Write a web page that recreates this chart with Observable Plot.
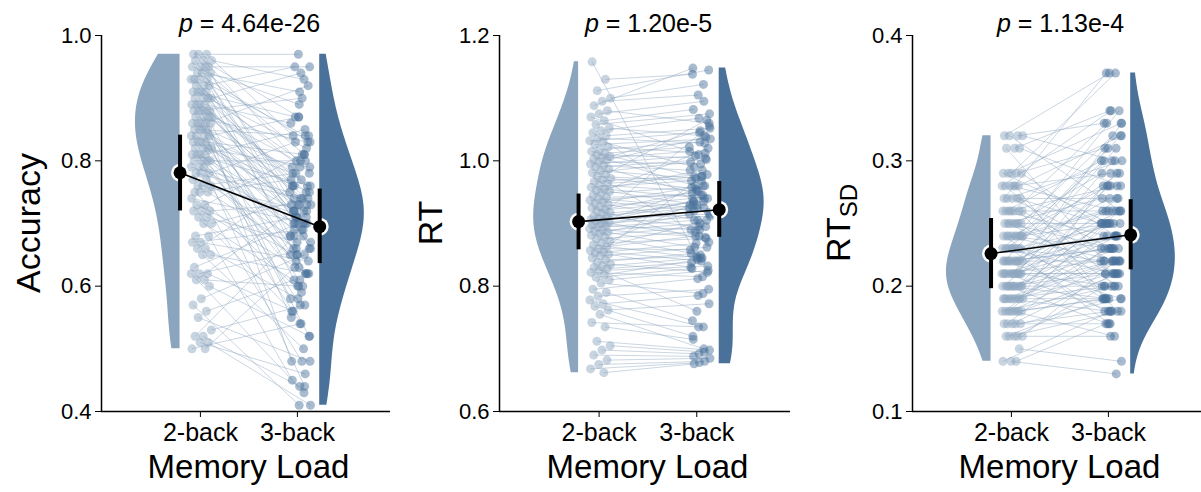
<!DOCTYPE html>
<html><head><meta charset="utf-8">
<script src="https://cdn.jsdelivr.net/npm/d3@7"></script>
<script src="https://cdn.jsdelivr.net/npm/@observablehq/plot@0.6"></script>
<style>
html,body{margin:0;padding:0;background:#fff;}
#wrap{position:relative;width:1201px;height:492px;overflow:hidden;font-family:"Liberation Sans",Arial,Helvetica,sans-serif;}
#wrap svg{position:absolute;top:0;}
</style></head><body><div id="wrap"></div>
<script>
const categories = ["2-back", "3-back"];

const accuracy2 = [
0.97,0.97,0.97,0.96,0.96,0.96,0.95,0.95,0.95,0.95,
0.94,0.94,0.94,0.93,0.93,0.93,0.93,0.92,0.92,0.92,
0.91,0.91,0.91,0.91,0.90,0.90,0.90,0.90,0.89,0.89,
0.89,0.89,0.88,0.88,0.88,0.88,0.88,0.87,0.87,0.87,
0.87,0.86,0.86,0.86,0.86,0.86,0.85,0.85,0.85,0.85,
0.84,0.84,0.84,0.84,0.83,0.83,0.83,0.83,0.82,0.82,
0.82,0.82,0.81,0.81,0.81,0.81,0.80,0.80,0.80,0.80,
0.79,0.79,0.79,0.78,0.78,0.78,0.77,0.77,0.76,0.76,
0.76,0.75,0.75,0.75,0.74,0.73,0.73,0.72,0.72,0.72,
0.71,0.71,0.70,0.70,0.68,0.68,0.67,0.67,0.66,0.66,
0.65,0.65,0.63,0.62,0.62,0.62,0.61,0.61,0.60,0.58,
0.57,0.56,0.55,0.53,0.52,0.52,0.51,0.51,0.50,0.50];
const accuracy3 = [
0.97,0.84,0.78,0.93,0.87,0.72,0.95,0.81,0.89,0.74,
0.83,0.70,0.91,0.76,0.66,0.84,0.79,0.95,0.73,0.62,
0.80,0.87,0.68,0.75,0.94,0.71,0.58,0.82,0.77,0.64,
0.86,0.73,0.69,0.80,0.55,0.76,0.90,0.71,0.48,0.83,
0.74,0.65,0.79,0.92,0.70,0.60,0.76,0.84,0.68,0.73,
0.78,0.52,0.72,0.87,0.66,0.75,0.81,0.63,0.70,0.79,
0.44,0.73,0.69,0.76,0.85,0.61,0.72,0.67,0.80,0.57,
0.70,0.75,0.62,0.74,0.83,0.65,0.71,0.54,0.78,0.68,
0.72,0.59,0.66,0.77,0.70,0.48,0.65,0.73,0.62,0.81,
0.67,0.56,0.74,0.60,0.71,0.45,0.64,0.69,0.58,0.76,
0.62,0.50,0.70,0.56,0.66,0.43,0.60,0.72,0.52,0.65,
0.41,0.61,0.48,0.57,0.44,0.68,0.41,0.46,0.54,0.63];

const rt2 = [
1.158,1.130,1.112,1.100,1.095,1.088,1.080,1.075,1.070,1.064,
1.058,1.052,1.048,1.045,1.040,1.036,1.032,1.030,1.026,1.022,
1.018,1.015,1.012,1.010,1.007,1.005,1.003,1.001,0.998,0.995,
0.992,0.990,0.987,0.984,0.981,0.978,0.975,0.972,0.970,0.967,
0.964,0.961,0.958,0.955,0.953,0.951,0.948,0.945,0.942,0.940,
0.937,0.935,0.932,0.930,0.927,0.925,0.922,0.920,0.917,0.915,
0.912,0.910,0.908,0.906,0.904,0.903,0.902,0.900,0.898,0.896,
0.894,0.892,0.890,0.888,0.886,0.884,0.881,0.878,0.875,0.872,
0.869,0.866,0.863,0.860,0.857,0.855,0.853,0.851,0.848,0.845,
0.842,0.838,0.835,0.832,0.830,0.828,0.825,0.822,0.818,0.814,
0.810,0.805,0.795,0.790,0.784,0.778,0.772,0.768,0.762,0.755,
0.742,0.735,0.712,0.705,0.698,0.690,0.682,0.675,0.668,0.662];
const rt3 = [
0.845,1.138,1.145,1.122,1.105,1.148,1.060,1.095,1.010,1.082,
1.075,1.040,1.068,0.935,1.052,1.028,1.045,0.990,1.035,1.012,
1.030,0.975,1.022,1.004,1.048,0.960,1.015,1.038,0.995,1.008,
0.985,1.002,0.945,0.972,0.998,1.065,0.968,0.955,0.890,0.978,
0.975,0.952,0.968,0.940,0.985,0.930,0.958,1.020,0.945,0.925,
0.948,0.918,0.960,0.905,0.940,0.870,0.935,0.952,0.928,1.055,
0.925,0.895,0.935,0.915,0.940,0.880,0.920,0.912,0.960,0.890,
0.905,0.925,0.878,0.900,0.862,0.915,0.895,0.850,0.887,0.930,
0.876,0.845,0.880,0.858,0.905,0.840,0.868,0.830,0.862,0.975,
0.848,0.852,0.822,0.845,0.760,0.838,0.832,0.815,0.842,0.828,
0.825,0.788,0.812,0.745,0.795,0.735,0.785,0.720,0.772,0.700,
0.735,0.715,0.698,0.695,0.692,0.688,0.685,0.680,0.678,0.676];

const rtsd2 = [
0.32,0.32,0.32,0.32,0.31,0.31,0.31,0.29,0.29,0.29,
0.29,0.29,0.28,0.28,0.28,0.28,0.28,0.28,0.27,0.27,
0.27,0.27,0.27,0.26,0.26,0.26,0.26,0.26,0.26,0.26,
0.25,0.25,0.25,0.25,0.25,0.25,0.25,0.24,0.24,0.24,
0.24,0.24,0.24,0.24,0.24,0.24,0.23,0.23,0.23,0.23,
0.23,0.23,0.23,0.23,0.23,0.22,0.22,0.22,0.22,0.22,
0.22,0.22,0.22,0.22,0.22,0.22,0.21,0.21,0.21,0.21,
0.21,0.21,0.21,0.21,0.21,0.21,0.21,0.21,0.20,0.20,
0.20,0.20,0.20,0.20,0.20,0.20,0.20,0.20,0.20,0.19,
0.19,0.19,0.19,0.19,0.19,0.19,0.19,0.19,0.18,0.18,
0.18,0.18,0.18,0.18,0.18,0.18,0.17,0.17,0.17,0.17,
0.17,0.16,0.16,0.16,0.16,0.16,0.15,0.14,0.14,0.14];
const rtsd3 = [
0.37,0.33,0.26,0.30,0.34,0.22,0.28,0.37,0.25,0.31,
0.33,0.24,0.29,0.21,0.32,0.26,0.34,0.19,0.30,0.27,
0.23,0.37,0.25,0.28,0.22,0.33,0.30,0.18,0.26,0.24,
0.29,0.21,0.32,0.25,0.27,0.20,0.23,0.31,0.26,0.22,
0.25,0.28,0.19,0.34,0.23,0.26,0.22,0.29,0.24,0.17,
0.30,0.25,0.21,0.27,0.20,0.32,0.24,0.23,0.18,0.26,
0.22,0.28,0.25,0.19,0.31,0.23,0.21,0.33,0.24,0.20,
0.26,0.22,0.29,0.18,0.25,0.23,0.21,0.30,0.19,0.25,
0.24,0.21,0.28,0.20,0.27,0.22,0.17,0.25,0.23,0.22,
0.23,0.19,0.26,0.21,0.18,0.28,0.22,0.20,0.19,0.24,
0.21,0.16,0.25,0.19,0.22,0.20,0.18,0.23,0.19,0.21,
0.17,0.20,0.18,0.22,0.16,0.19,0.14,0.13,0.18,0.17];

// group summaries (mean and error bar ends)
const accMean = [0.781, 0.695], accLow = [0.720, 0.636], accHigh = [0.841, 0.755];
const rtMean = [0.903, 0.922], rtLow = [0.858, 0.878], rtHigh = [0.947, 0.967];
const rtsdMean = [0.226, 0.241], rtsdLow = [0.198, 0.213], rtsdHigh = [0.254, 0.269];

const accTicks = [0.4, 0.6, 0.8, 1.0];
const rtTicks = [0.6, 0.8, 1.0, 1.2];
const rtsdTicks = [0.1, 0.2, 0.3, 0.4];

const pLabels = ["4.64e-26", "1.20e-5", "1.13e-4"];
const yLabels = [["Accuracy", ""], ["RT", ""], ["RT", "SD"]];
const xLabel = "Memory Load";

const col2 = "#8ba5be", col3 = "#49719a";
const FONT = '"Liberation Sans", Arial, Helvetica, sans-serif';

function kde(values, n = 120) {
  const sd = d3.deviation(values), h = sd * Math.pow(values.length, -0.2);
  const [lo, hi] = d3.extent(values);
  const ys = d3.range(n + 1).map(k => lo + (hi - lo) * k / n);
  const dens = ys.map(y => d3.sum(values, v => Math.exp(-0.5 * ((y - v) / h) ** 2)));
  const m = d3.max(dens);
  return ys.map((y, k) => ({y, w: dens[k] / m}));
}

const panels = [
  {left: 0, width: 400, ml: 101, mr: 10, v2: accuracy2, v3: accuracy3, domain: [0.4, 1.0], ticks: accTicks,
   mean: accMean, low: accLow, high: accHigh, labelX: 40},
  {left: 400, width: 400, ml: 99, mr: 10, v2: rt2, v3: rt3, domain: [0.6, 1.2], ticks: rtTicks,
   mean: rtMean, low: rtLow, high: rtHigh, labelX: 42},
  {left: 800, width: 401, ml: 112, mr: 0, v2: rtsd2, v3: rtsd3, domain: [0.1, 0.4], ticks: rtsdTicks,
   mean: rtsdMean, low: rtsdLow, high: rtsdHigh, labelX: 50}
];

const E2 = -0.21, E3 = 1.23, VW = 0.46, JW = 0.22;
const wrap = document.getElementById("wrap");

panels.forEach((p, pi) => {
  const pairs = p.v2.map((y2, i) => ({
    y2, y3: p.v3[i],
    x2: 0.01 + JW * (((i * 0.6180339887 + 0.13) % 1) - 0.5),
    x3: 1.03 + JW * (((i * 0.7548776662 + 0.41) % 1) - 0.5)
  }));
  const k2 = kde(p.v2), k3 = kde(p.v3);
  const summary = [0, 1].map(g => ({x: g === 0 ? E2 : E3, m: p.mean[g], lo: p.low[g], hi: p.high[g]}));
  const svg = Plot.plot({
    width: p.width, height: 492,
    marginLeft: p.ml, marginRight: p.mr, marginTop: 35, marginBottom: 81,
    style: {fontFamily: FONT, fontSize: "22px", color: "black", background: "transparent", overflow: "visible"},
    x: {domain: [-1.02, 1.96], ticks: [0, 1], tickFormat: i => categories[i], tickSize: 6, tickPadding: 6, label: null},
    y: {domain: p.domain, ticks: p.ticks, tickFormat: d3.format(".1f"), tickSize: 6, tickPadding: 4, label: null},
    marks: [
      Plot.areaX(k2, {y: "y", x1: () => E2, x2: d => E2 - VW * d.w, fill: col2}),
      Plot.areaX(k3, {y: "y", x1: () => E3, x2: d => E3 + VW * d.w, fill: col3}),
      Plot.link(pairs, {x1: "x2", y1: "y2", x2: "x3", y2: "y3", stroke: col2, strokeOpacity: 0.45, strokeWidth: 1}),
      Plot.dot(pairs, {x: "x2", y: "y2", r: 4.5, fill: col2, fillOpacity: 0.48}),
      Plot.dot(pairs, {x: "x3", y: "y3", r: 4.5, fill: col3, fillOpacity: 0.48}),
      Plot.dot(summary, {x: "x", y: "m", r: 9, fill: "white"}),
      Plot.line(summary, {x: "x", y: "m", stroke: "black", strokeWidth: 1.6}),
      Plot.ruleX(summary, {x: "x", y1: "lo", y2: "hi", stroke: "black", strokeWidth: 4}),
      Plot.dot(summary, {x: "x", y: "m", r: 6.5, fill: "black"}),
      Plot.ruleX([-1.02], {stroke: "black", strokeWidth: 1.5}),
      Plot.ruleY([p.domain[0]], {stroke: "black", strokeWidth: 1.5})
    ]
  });
  svg.style.left = p.left + "px";
  wrap.appendChild(svg);
  const s = d3.select(svg);
  s.selectAll('[aria-label="x-axis tick label"]').attr("font-size", 25);
  const cx = (p.ml + p.width - p.mr) / 2;
  const t = s.append("text").attr("x", cx + 4).attr("y", 32).attr("text-anchor", "middle")
    .attr("font-size", 25).attr("font-family", FONT).attr("fill", "black");
  t.append("tspan").attr("font-style", "italic").text("p");
  t.append("tspan").text(" = " + pLabels[pi]);
  const yl = s.append("text").attr("transform", `translate(${p.labelX},223) rotate(-90)`)
    .attr("text-anchor", "middle").attr("font-size", 34).attr("font-family", FONT).attr("fill", "black");
  yl.append("tspan").text(yLabels[pi][0]);
  if (yLabels[pi][1]) yl.append("tspan").attr("font-size", 24).attr("dy", 7).text(yLabels[pi][1]);
  s.append("text").attr("x", cx + 3).attr("y", 478).attr("text-anchor", "middle")
    .attr("font-size", 33).attr("font-family", FONT).attr("fill", "black").text(xLabel);
});
</script></body></html>
